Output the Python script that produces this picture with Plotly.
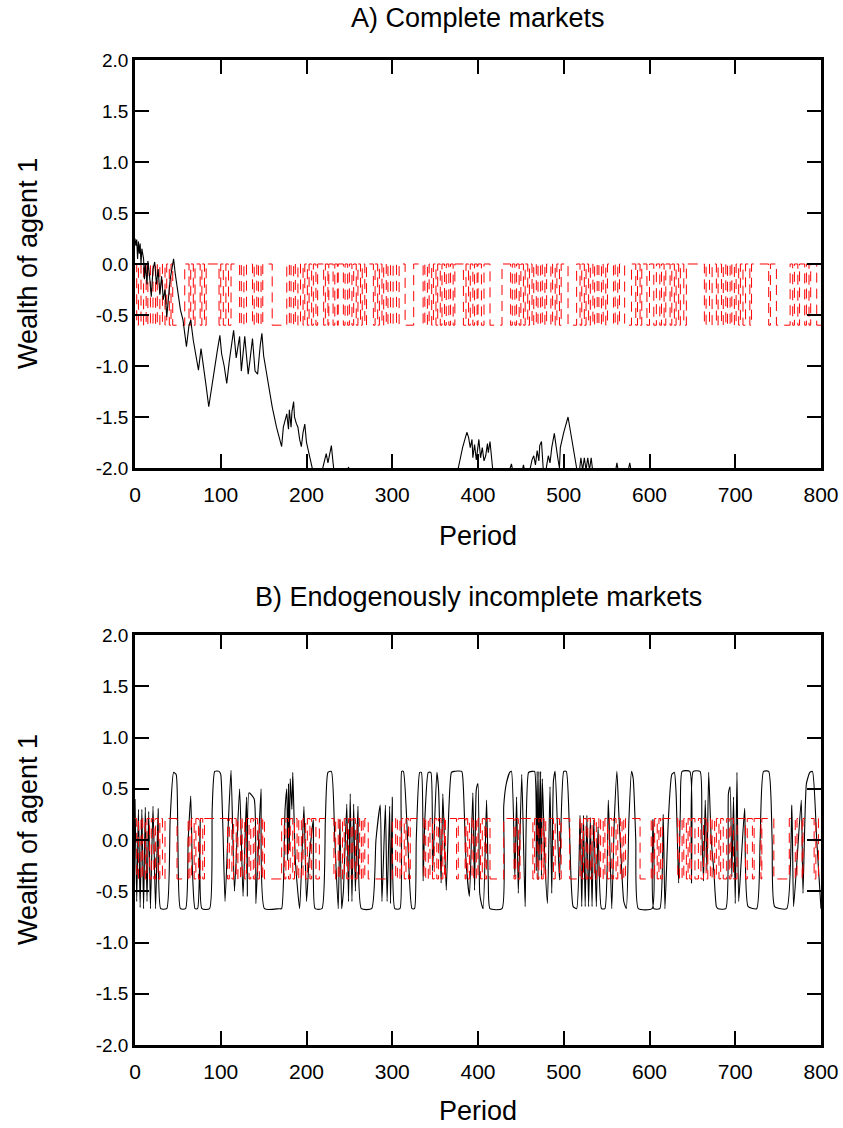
import plotly.graph_objects as go

# ---------------- Panel A: complete markets ----------------
# Wealth of agent 1 (solid black): period, value pairs
a_wealth_t = [0, 1, 2, 3, 4, 5, 6, 7, 8, 10, 11, 12, 14, 15, 17, 19, 21, 23, 25, 27,
              29, 31, 33, 35, 37, 39, 41, 43, 45, 47, 50, 53, 56, 60, 63, 65, 68, 71, 74, 77,
              80, 83, 86, 88, 90, 93, 96, 99, 101, 104, 107, 110, 113, 115, 118, 120, 122, 124, 126, 128,
              130, 132, 134, 137, 140, 143, 146, 148, 150, 155, 160, 165, 171, 173, 175, 177, 179, 180, 182, 183,
              185, 186, 188, 190, 192, 194, 196, 198, 200, 203, 206, 208, 212, 216, 219, 221, 223, 225, 227, 229,
              231, 233, 240, 246, 249, 252, 260, 280, 300, 320, 340, 360, 372, 377, 382, 387, 389, 391, 393, 394,
              396, 398, 401, 403, 405, 407, 409, 411, 412, 414, 417, 420, 430, 436, 439, 441, 450, 453, 455, 461,
              463, 465, 467, 469, 471, 472, 474, 476, 478, 480, 482, 484, 486, 489, 491, 493, 495, 496, 500, 505,
              510, 515, 518, 520, 522, 524, 526, 528, 530, 532, 534, 540, 555, 560, 562, 564, 570, 575, 577, 579,
              600, 700, 800]
a_wealth_v = [0.25, 0.18, 0.24, 0.05, 0.22, 0.10, 0.20, 0.00, 0.15, 0.05, -0.15, 0.00, -0.20, 0.03, -0.12, -0.32, -0.05, 0.02, -0.20, -0.05,
              -0.30, -0.12, -0.35, -0.25, -0.52, -0.30, -0.15, -0.05, 0.05, -0.10, -0.30, -0.45, -0.55, -0.81, -0.60, -0.55, -0.75, -0.90, -1.04, -0.83,
              -1.00, -1.20, -1.40, -1.28, -1.19, -1.00, -0.85, -0.70, -0.88, -1.00, -1.17, -0.95, -0.75, -0.65, -0.92, -0.80, -0.71, -1.05, -0.85, -0.71,
              -0.90, -1.08, -0.95, -0.73, -1.05, -1.08, -0.80, -0.68, -0.90, -1.15, -1.40, -1.60, -1.79, -1.60, -1.53, -1.47, -1.62, -1.43, -1.60, -1.45,
              -1.35, -1.50, -1.56, -1.60, -1.72, -1.79, -1.65, -1.57, -1.75, -1.85, -1.95, -2.05, -2.20, -2.10, -2.00, -1.92, -1.86, -1.95, -1.85, -1.78,
              -1.95, -2.10, -2.30, -2.10, -1.99, -2.15, -2.40, -2.60, -2.50, -2.40, -2.50, -2.30, -2.10, -2.00, -1.80, -1.65, -1.70, -1.80, -1.72, -1.90,
              -1.77, -1.92, -1.72, -1.90, -1.80, -1.93, -1.88, -1.76, -1.85, -1.74, -2.00, -2.10, -2.20, -2.05, -1.96, -2.05, -2.10, -1.97, -2.05, -2.00,
              -1.92, -1.88, -1.97, -1.83, -1.93, -1.78, -1.74, -2.00, -2.10, -1.98, -1.88, -1.95, -1.80, -1.66, -1.80, -1.90, -2.00, -1.80, -1.65, -1.50,
              -1.75, -2.00, -2.05, -1.90, -2.02, -1.90, -2.02, -1.90, -2.02, -1.90, -2.05, -2.20, -2.30, -2.05, -1.95, -2.05, -2.20, -2.03, -1.95, -2.05,
              -2.50, -2.60, -2.70]

# Second series (red dashed): two-level switching, low-state spells (start, end)
a_levels = [0.0, -0.6]  # high, low
a_low_start = [2, 7, 13, 18, 24, 29, 35, 40, 44, 63, 68, 76, 81, 98, 103, 109, 122, 127, 137, 142,
               147, 160, 180, 185, 190, 196, 201, 206, 211, 220, 225, 231, 236, 243, 248, 253, 258, 263, 268, 278,
               283, 288, 293, 298, 305, 315, 336, 341, 346, 351, 356, 361, 366, 371, 383, 389, 394, 399, 404, 414,
               438, 443, 448, 453, 458, 463, 468, 473, 478, 485, 490, 495, 505, 519, 524, 529, 534, 539, 544, 549,
               558, 563, 571, 584, 589, 597, 605, 612, 617, 624, 629, 634, 640, 664, 670, 678, 684, 689, 694, 699,
               704, 709, 717, 739, 748, 767, 773, 781, 786, 795]
a_low_end = [4, 10, 15, 21, 26, 32, 37, 42, 58, 65, 70, 78, 83, 100, 106, 112, 124, 130, 139, 144,
             149, 177, 182, 187, 193, 198, 203, 208, 213, 222, 226, 233, 237, 245, 250, 255, 260, 265, 270, 280,
             285, 290, 295, 301, 308, 325, 338, 343, 348, 353, 358, 363, 368, 373, 386, 391, 396, 400, 407, 428,
             440, 445, 450, 455, 460, 465, 470, 475, 480, 487, 492, 497, 515, 521, 526, 531, 536, 541, 546, 551,
             560, 565, 579, 586, 591, 600, 608, 614, 619, 626, 631, 636, 643, 666, 673, 680, 686, 691, 696, 701,
             706, 712, 719, 741, 764, 769, 775, 783, 788, 800]

# ---------------- Panel B: endogenously incomplete markets ----------------
b_wealth_t = [0, 2, 4, 6, 8, 10, 12, 14, 16, 18, 21, 24, 27, 30, 37, 41, 45, 48, 50, 53,
              59, 62, 65, 67, 70, 73, 76, 78, 87, 90, 93, 98, 100, 105, 109, 112, 116, 122, 126, 130,
              131, 133, 139, 141, 147, 151, 168, 171, 175, 177, 178, 179, 180, 181, 183, 184, 187, 192, 197, 200,
              203, 208, 210, 218, 222, 225, 229, 233, 237, 239, 241, 243, 247, 249, 251, 253, 255, 257, 260, 264,
              276, 281, 286, 288, 292, 294, 297, 298, 300, 303, 309, 311, 313, 318, 323, 326, 328, 332, 334, 336,
              338, 342, 345, 347, 352, 354, 357, 359, 363, 366, 369, 372, 381, 383, 386, 390, 394, 396, 398, 400,
              402, 404, 406, 410, 412, 414, 428, 430, 433, 437, 439, 443, 445, 447, 451, 453, 455, 459, 463, 466,
              468, 469, 470, 471, 472, 473, 474, 475, 478, 481, 484, 486, 488, 490, 495, 500, 503, 507, 511, 515,
              519, 521, 523, 525, 527, 529, 531, 533, 535, 538, 540, 544, 548, 552, 556, 559, 562, 564, 567, 570,
              573, 576, 579, 581, 584, 587, 603, 604, 605, 612, 616, 618, 622, 626, 629, 631, 634, 636, 638, 647,
              649, 651, 659, 661, 663, 665, 667, 669, 672, 675, 678, 680, 689, 692, 694, 696, 698, 700, 702, 704,
              707, 711, 715, 725, 729, 733, 739, 743, 746, 760, 766, 768, 772, 777, 779, 783, 787, 790, 795, 800]
b_wealth_v = [0.40, -0.60, 0.30, -0.66, 0.30, -0.67, 0.32, -0.60, 0.28, -0.67, 0.33, -0.67, 0.31, -0.67, -0.67, 0.20, 0.66, 0.64, 0.00, -0.67,
              -0.67, 0.00, 0.43, -0.30, -0.67, -0.67, 0.20, -0.67, -0.67, 0.30, 0.67, 0.67, 0.64, -0.60, 0.20, 0.68, -0.50, 0.50, -0.55, 0.42,
              -0.55, 0.46, 0.40, -0.62, 0.50, -0.67, -0.67, -0.67, 0.30, 0.50, -0.20, 0.55, -0.10, 0.60, 0.30, 0.66, -0.20, -0.67, 0.33, -0.60,
              -0.20, 0.20, -0.67, -0.67, 0.20, 0.66, 0.67, 0.00, -0.67, 0.20, -0.67, -0.50, 0.35, -0.60, 0.45, -0.60, 0.35, -0.50, 0.33, -0.67,
              -0.67, 0.00, 0.34, -0.60, 0.34, -0.60, 0.33, -0.62, 0.42, -0.67, -0.67, 0.67, 0.67, 0.00, -0.67, -0.67, 0.00, 0.66, 0.66, -0.40,
              0.20, 0.66, 0.66, -0.30, 0.66, 0.50, -0.42, 0.45, -0.49, 0.30, 0.66, 0.67, 0.67, 0.50, -0.20, -0.55, 0.46, -0.49, 0.49, 0.55,
              -0.52, -0.62, -0.67, 0.39, -0.40, -0.67, -0.67, 0.33, 0.55, 0.66, 0.67, -0.36, 0.42, -0.52, 0.64, 0.00, -0.65, 0.66, 0.67, 0.67,
              -0.30, 0.67, -0.39, 0.67, -0.20, 0.67, -0.35, 0.60, -0.20, -0.62, 0.52, -0.52, 0.58, 0.67, -0.39, 0.67, 0.67, 0.00, -0.65, -0.67,
              0.24, -0.65, 0.24, -0.65, 0.24, -0.65, 0.22, -0.65, 0.20, -0.65, 0.13, -0.67, -0.67, 0.39, -0.67, 0.20, 0.67, 0.30, -0.20, -0.60,
              -0.67, 0.20, 0.67, 0.60, 0.00, -0.67, -0.67, 0.20, -0.67, -0.67, 0.25, -0.67, 0.20, 0.64, 0.66, 0.46, -0.42, 0.30, 0.67, 0.67,
              -0.42, 0.67, 0.67, 0.10, -0.40, 0.39, -0.30, 0.66, 0.00, -0.30, -0.65, -0.67, -0.67, 0.45, 0.52, -0.36, 0.42, -0.62, 0.66, -0.60,
              -0.20, 0.31, -0.65, -0.67, 0.00, 0.67, 0.67, 0.00, -0.65, -0.67, 0.34, -0.65, -0.20, 0.39, -0.52, 0.55, 0.66, 0.67, 0.00, -0.67]

b_levels = [0.21, -0.38]  # high, low
b_low_start = [2, 7, 12, 17, 22, 27, 32, 49, 64, 69, 74, 79, 108, 113, 118, 123, 128, 133, 138, 143,
               148, 151, 174, 179, 184, 189, 194, 199, 204, 211, 232, 237, 242, 247, 252, 257, 262, 266, 272, 304,
               309, 314, 319, 337, 342, 347, 352, 357, 361, 375, 385, 388, 393, 398, 403, 408, 414, 442, 447, 464,
               469, 474, 477, 488, 495, 507, 521, 526, 531, 536, 541, 546, 551, 556, 561, 566, 570, 589, 604, 609,
               613, 633, 638, 643, 647, 653, 660, 666, 671, 676, 681, 686, 693, 698, 712, 720, 730, 745, 770, 778,
               792, 797]
b_low_end = [4, 9, 14, 19, 24, 29, 35, 62, 66, 71, 76, 81, 110, 115, 120, 125, 130, 135, 140, 145,
             149, 171, 176, 181, 186, 191, 196, 201, 206, 215, 234, 239, 244, 249, 254, 259, 264, 268, 300, 306,
             311, 316, 321, 339, 344, 349, 354, 359, 362, 377, 386, 390, 395, 400, 405, 410, 430, 444, 449, 466,
             471, 476, 479, 490, 497, 519, 523, 528, 533, 538, 543, 548, 553, 558, 563, 568, 572, 602, 606, 611,
             615, 635, 640, 645, 649, 657, 663, 668, 673, 678, 683, 690, 695, 702, 714, 722, 731, 763, 772, 779,
             794, 800]

x_ticks = [0, 100, 200, 300, 400, 500, 600, 700, 800]
y_ticks = [-2.0, -1.5, -1.0, -0.5, 0.0, 0.5, 1.0, 1.5, 2.0]
y_tick_text = ["-2.0", "-1.5", "-1.0", "-0.5", "0.0", "0.5", "1.0", "1.5", "2.0"]
titles = ["A) Complete markets", "B) Endogenously incomplete markets"]
x_title = "Period"
y_title = "Wealth of agent 1"


def step_path(starts, ends, levels, t_end=800):
    """Two-level path: high outside the low spells, low inside them."""
    hi, lo = levels
    xs, ys = [0], [hi]
    for s, e in zip(starts, ends):
        xs += [s, s, e]
        ys += [hi, lo, lo]
        if e < t_end:
            xs.append(e)
            ys.append(hi)
    if xs[-1] < t_end:
        xs.append(t_end)
        ys.append(ys[-1])
    return xs, ys


FONT = "Liberation Sans, Arial, sans-serif"
RED_DASH = "10px,6px"
TOP_A, BOT_A = 1.0, 0.5858
TOP_B, BOT_B = 0.4162, 0.0

fig = go.Figure()

ra_x, ra_y = step_path(a_low_start, a_low_end, a_levels)
fig.add_trace(go.Scatter(x=ra_x, y=ra_y, mode="lines", xaxis="x", yaxis="y",
                         line=dict(color="#ff0000", width=1, dash=RED_DASH), showlegend=False))
fig.add_trace(go.Scatter(x=a_wealth_t, y=a_wealth_v, mode="lines", xaxis="x", yaxis="y",
                         line=dict(color="black", width=1.1), showlegend=False))

fig.add_trace(go.Scatter(x=b_wealth_t, y=b_wealth_v, mode="lines", xaxis="x2", yaxis="y2",
                         line=dict(color="black", width=1.1, shape="spline", smoothing=0.5),
                         showlegend=False))
rb_x, rb_y = step_path(b_low_start, b_low_end, b_levels)
fig.add_trace(go.Scatter(x=rb_x, y=rb_y, mode="lines", xaxis="x2", yaxis="y2",
                         line=dict(color="#ff0000", width=1, dash=RED_DASH), showlegend=False))

axis_common = dict(
    showline=True, linecolor="black", linewidth=2.5, mirror="ticks",
    ticks="inside", ticklen=14, tickwidth=2, tickcolor="black",
    showgrid=False, zeroline=False, automargin=False,
)
xaxis_style = dict(axis_common, range=[0, 800], tickvals=x_ticks, ticklabelstandoff=6,
                   tickfont=dict(family=FONT, size=21, color="black"))
yaxis_style = dict(axis_common, range=[-2, 2], tickvals=y_ticks, ticktext=y_tick_text,
                   tickfont=dict(family=FONT, size=19, color="black"))

TXT = dict(family=FONT, size=27, color="black")
annotations = [
    dict(text=titles[0], x=0.5, y=TOP_A, yshift=42),
    dict(text=titles[1], x=0.5, y=TOP_B, yshift=38),
    dict(text=x_title, x=0.5, y=BOT_A, yshift=-68),
    dict(text=x_title, x=0.5, y=BOT_B, yshift=-66),
    dict(text=y_title, x=0.0, y=(TOP_A + BOT_A) / 2, xshift=-107, textangle=-90),
    dict(text=y_title, x=0.0, y=(TOP_B + BOT_B) / 2, xshift=-107, textangle=-90),
]
for a in annotations:
    a.update(xref="paper", yref="paper", showarrow=False, xanchor="center",
             yanchor="middle", font=TXT)

fig.update_layout(
    width=843, height=1128,
    margin=dict(l=135, r=22, t=60, b=83),
    paper_bgcolor="white", plot_bgcolor="white",
    xaxis=dict(xaxis_style, anchor="y", domain=[0, 1]),
    yaxis=dict(yaxis_style, anchor="x", domain=[BOT_A, TOP_A]),
    xaxis2=dict(xaxis_style, anchor="y2", domain=[0, 1]),
    yaxis2=dict(yaxis_style, anchor="x2", domain=[BOT_B, TOP_B]),
    annotations=annotations,
)

fig.write_html("out.html")
